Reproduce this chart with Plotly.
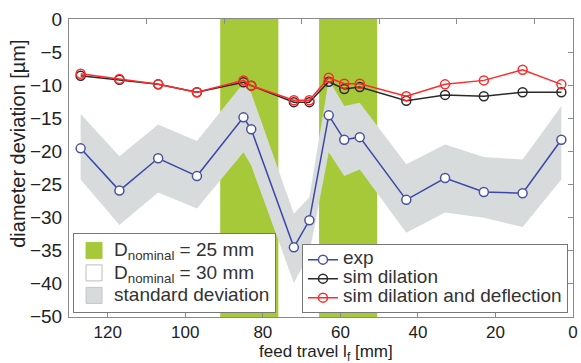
import plotly.graph_objects as go

# ---------------- data ----------------
feed_travel = [127, 117, 107, 97, 85, 83, 72, 68, 63, 59, 55, 43, 33, 23, 13, 3]
exp_dev = [-19.6, -26.0, -21.1, -23.8, -14.9, -16.7, -34.6, -30.5, -14.6, -18.3, -17.9, -27.4, -24.1, -26.2, -26.4, -18.3]
std_upper = [-14.4, -20.8, -16.0, -18.5, -9.7, -11.2, -29.5, -27.0, -9.2, -13.2, -12.7, -22.0, -19.0, -20.9, -21.3, -13.2]
std_lower = [-24.3, -31.2, -26.3, -28.7, -20.2, -22.2, -40.0, -35.5, -20.2, -23.8, -22.8, -32.4, -29.3, -30.1, -31.5, -24.3]
sim_dilation = [-8.6, -9.2, -9.9, -11.1, -9.6, -10.1, -12.6, -12.6, -9.5, -10.6, -10.3, -12.4, -11.5, -11.7, -11.1, -11.1]
sim_dil_defl = [-8.3, -9.1, -9.9, -11.1, -9.3, -10.1, -12.3, -12.3, -8.9, -9.8, -9.8, -11.7, -9.9, -9.3, -7.7, -9.9]

# nominal diameter regions along the feed travel [mm]
d25_regions = [(91.0, 76.0), (65.5, 50.5)]

x_range = [130, 0]
y_min, y_max = -45.15, 0
x_ticks = [120, 100, 80, 60, 40, 20, 0]
x_top_ticks = [110, 90, 70, 50, 30, 10]
y_ticks = [0, -5, -10, -15, -20, -25, -30, -35, -40, -45]
y_ticktext = ["0", "\u22125", "\u221210", "\u221215", "\u221220", "\u221225",
              "\u221230", "\u221235", "\u221240", "\u221250"]

GREEN = "#a6c93a"
GRAY = "#d8dbdb"
BLUE = "#3b47a8"
MARK = "#4a52a0"
FONT = "Liberation Sans, Arial, sans-serif"


def big(txt, px=19):
    return '<span style="font-size:%dpx">%s</span>' % (px, txt)


def region_poly(regions):
    xs, ys = [], []
    for a, b in regions:
        xs += [a, b, b, a, a, None]
        ys += [y_max, y_max, y_min, y_min, y_max, None]
    return xs, ys


fig = go.Figure()

gx, gy = region_poly(d25_regions)
fig.add_trace(go.Scatter(x=gx, y=gy, fill="toself", fillcolor=GREEN,
                         line=dict(color=GREEN, width=0), mode="lines",
                         showlegend=False, hoverinfo="skip"))

band_x = feed_travel + feed_travel[::-1] + [feed_travel[0]]
band_y = std_upper + std_lower[::-1] + [std_upper[0]]
fig.add_trace(go.Scatter(x=band_x, y=band_y, fill="toself", fillcolor=GRAY,
                         line=dict(color=GRAY, width=0), mode="lines",
                         showlegend=False, hoverinfo="skip"))

# legend entries for the areas
legend_areas = [
    ("D<sub>nominal</sub> = 25 mm", GREEN, GREEN),
    ("D<sub>nominal</sub> = 30 mm", "white", "#bdbdbd"),
    ("standard deviation", GRAY, "#c4c6c6"),
]
for i, (nm, fc, lc) in enumerate(legend_areas):
    fig.add_trace(go.Scatter(x=[None], y=[None], mode="markers", name=big(nm),
                             marker=dict(symbol="square", size=17, color=fc,
                                         line=dict(color=lc, width=1)),
                             legend="legend", legendrank=i + 1, hoverinfo="skip"))

fig.add_trace(go.Scatter(x=feed_travel, y=exp_dev, mode="lines+markers", name=big("exp"),
                         line=dict(color=BLUE, width=1.5),
                         marker=dict(symbol="circle", size=9, color="white",
                                     line=dict(color=MARK, width=1.5)),
                         legend="legend2", legendrank=1))
fig.add_trace(go.Scatter(x=feed_travel, y=sim_dilation, mode="lines+markers", name=big("sim dilation"),
                         line=dict(color="#2a2a2a", width=1.5),
                         marker=dict(symbol="circle-open", size=9,
                                     line=dict(color=MARK, width=1.5)),
                         legend="legend2", legendrank=2))
fig.add_trace(go.Scatter(x=feed_travel, y=sim_dil_defl, mode="lines+markers",
                         name=big("sim dilation and deflection"),
                         line=dict(color="#ff2a2a", width=1.5),
                         marker=dict(symbol="circle-open", size=9,
                                     line=dict(color=MARK, width=1.5)),
                         legend="legend2", legendrank=3))

# helper traces to activate the secondary (tick-only) axes
fig.add_trace(go.Scatter(x=[None], y=[None], xaxis="x2", yaxis="y", showlegend=False, hoverinfo="skip"))
fig.add_trace(go.Scatter(x=[None], y=[None], xaxis="x", yaxis="y2", showlegend=False, hoverinfo="skip"))

axis_col = "#8a8a8a"
fig.update_layout(
    width=581, height=363, autosize=False,
    margin=dict(l=69, r=8, t=19, b=46),
    paper_bgcolor="white", plot_bgcolor="white",
    font=dict(family=FONT, size=19, color="#222"),
    xaxis=dict(range=x_range, tickvals=x_ticks, ticks="inside", ticklen=5,
               tickcolor=axis_col, showline=True, linecolor=axis_col, linewidth=1,
               mirror=True, showgrid=False, zeroline=False, automargin=False,
               tickfont=dict(size=17, color="#222")),
    xaxis2=dict(range=x_range, overlaying="x", side="top", tickvals=x_top_ticks,
                ticks="inside", ticklen=5, tickcolor=axis_col, showticklabels=False,
                showline=False, showgrid=False, zeroline=False, automargin=False),
    yaxis=dict(range=[y_min, y_max], tickvals=y_ticks, ticktext=y_ticktext,
               ticks="", showline=True, linecolor=axis_col, linewidth=1, mirror=True,
               showgrid=False, zeroline=False, ticklabelstandoff=2, automargin=False,
               tickfont=dict(size=19, color="#222")),
    yaxis2=dict(range=[y_min, y_max], overlaying="y", side="right", tickvals=y_ticks,
                ticks="inside", ticklen=5, tickcolor=axis_col, showticklabels=False,
                showline=False, showgrid=False, zeroline=False, automargin=False),
    legend=dict(x=0.008, y=0.013, xanchor="left", yanchor="bottom",
                bgcolor="white", bordercolor="#777", borderwidth=1,
                font=dict(size=15, color="#333"), tracegroupgap=0,
                itemclick=False, itemsizing="trace"),
    legend2=dict(x=0.99, y=0.013, xanchor="right", yanchor="bottom",
                 bgcolor="white", bordercolor="#777", borderwidth=1,
                 font=dict(size=12, color="#333"), tracegroupgap=0,
                 itemclick=False),
    annotations=[
        dict(text="feed travel l<sub>f</sub> [mm]", xref="paper", yref="paper",
             x=0.51, y=-0.121, xanchor="center", yanchor="middle", showarrow=False,
             font=dict(size=17, color="#222")),
        dict(text="diameter deviation [\u00b5m]", xref="paper", yref="paper",
             x=-0.1, y=0.58, xanchor="center", yanchor="middle", showarrow=False,
             textangle=-90, font=dict(size=20, color="#222")),
    ],
)

fig.write_html("out.html", post_script="document.body.style.margin='0';",
               config={"displayModeBar": False})
